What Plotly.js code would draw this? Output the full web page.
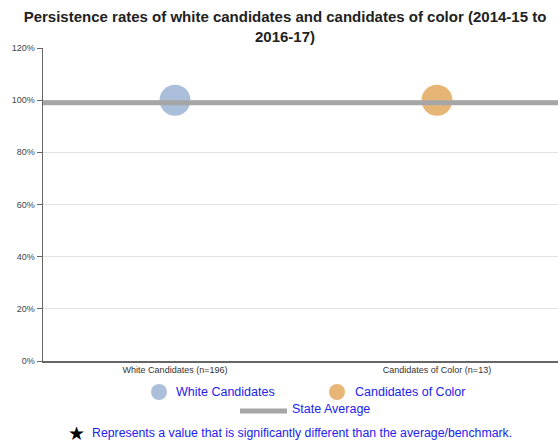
<!DOCTYPE html>
<html>
<head>
<meta charset="utf-8">
<script src="https://cdn.plot.ly/plotly-3.0.1.min.js"></script>
<style>html,body{margin:0;padding:0;background:#fff}#chart{width:558px;height:443px}</style>
</head>
<body>
<div id="chart"></div>
<script>
const categories = ["White Candidates (n=196)", "Candidates of Color (n=13)"];
const seriesNames = ["White Candidates", "Candidates of Color"];
const persistence = [1.00, 1.00];
const stateAverage = 0.99;
const yTickVals = [0, 0.2, 0.4, 0.6, 0.8, 1.0, 1.2];
const yTickText = ["0%", "20%", "40%", "60%", "80%", "100%", "120%"];
const colors = ["#abbfdb", "#e7b676"];

const L = 43, T = 48, R = 0, B = 82, W = 558, H = 443;
const pw = W - L - R, ph = H - T - B;
const px = x => (x - L) / pw;
const py = y => (H - B - y) / ph;

const traces = seriesNames.map((name, i) => ({
  type: "scatter", mode: "markers", name: name,
  x: [categories[i]], y: [persistence[i]],
  marker: {size: 31, color: colors[i], line: {width: 0}},
  showlegend: false, hoverinfo: "skip"
}));

const blue = "#2222ee";
const shapes = [
  {type: "line", xref: "paper", yref: "y", x0: 0, x1: 1, y0: stateAverage, y1: stateAverage,
   line: {color: "#a6a6a6", width: 5}, layer: "above"},
  {type: "circle", xref: "paper", yref: "paper", xsizemode: "pixel", ysizemode: "pixel",
   xanchor: px(159), yanchor: py(392), x0: -8, x1: 8, y0: -8, y1: 8,
   fillcolor: colors[0], line: {width: 0}},
  {type: "circle", xref: "paper", yref: "paper", xsizemode: "pixel", ysizemode: "pixel",
   xanchor: px(337), yanchor: py(392), x0: -8, x1: 8, y0: -8, y1: 8,
   fillcolor: colors[1], line: {width: 0}},
  {type: "line", xref: "paper", yref: "paper", x0: px(240), x1: px(287), y0: py(411), y1: py(411),
   line: {color: "#a6a6a6", width: 5}}
];

const F = "Arial, Liberation Sans";
const annotations = [
  {xref: "paper", yref: "paper", x: px(174), y: py(392), xanchor: "left", yanchor: "middle",
   text: seriesNames[0], showarrow: false, font: {family: F, size: 12.5, color: blue}},
  {xref: "paper", yref: "paper", x: px(353), y: py(392), xanchor: "left", yanchor: "middle",
   text: seriesNames[1], showarrow: false, font: {family: F, size: 12.5, color: blue}},
  {xref: "paper", yref: "paper", x: px(290), y: py(409), xanchor: "left", yanchor: "middle",
   text: "State Average", showarrow: false, font: {family: F, size: 12.5, color: blue}},
  {xref: "paper", yref: "paper", x: px(76), y: py(433), xanchor: "center", yanchor: "middle",
   text: "★", showarrow: false, font: {family: "DejaVu Sans", size: 19, color: "#000"}},
  {xref: "paper", yref: "paper", x: px(90), y: py(433), xanchor: "left", yanchor: "middle",
   text: "Represents a value that is significantly different than the average/benchmark.", showarrow: false,
   font: {family: F, size: 12.3, color: blue}}
];

const layout = {
  width: W, height: H,
  margin: {l: L, r: R, t: T, b: B, pad: 0},
  paper_bgcolor: "#fff", plot_bgcolor: "#fff",
  title: {text: "Persistence rates of white candidates and candidates of color (2014-15 to<br>2016-17)",
    x: 285 / W, xref: "container", yref: "container", y: 1 - 22 / H, yanchor: "middle",
    font: {family: F, size: 15, color: "#222", weight: "bold"}},
  xaxis: {type: "category", categoryarray: categories, range: [-0.504, 1.462],
    showgrid: false, zeroline: false, showline: true, linecolor: "#666", linewidth: 1.5,
    ticks: "", tickfont: {family: F, size: 9, color: "#333"}, fixedrange: true},
  yaxis: {range: [0, 1.2], tickvals: yTickVals, ticktext: yTickText,
    showgrid: true, gridcolor: "#e3e3e3", gridwidth: 1, zeroline: false,
    showline: true, linecolor: "#666", linewidth: 1.5, ticks: "outside", ticklen: 5, tickcolor: "#666",
    tickfont: {family: F, size: 9, color: "#444"}, fixedrange: true},
  shapes: shapes, annotations: annotations, showlegend: false
};

Plotly.newPlot("chart", traces, layout, {displayModeBar: false, staticPlot: true});
</script>
</body>
</html>
